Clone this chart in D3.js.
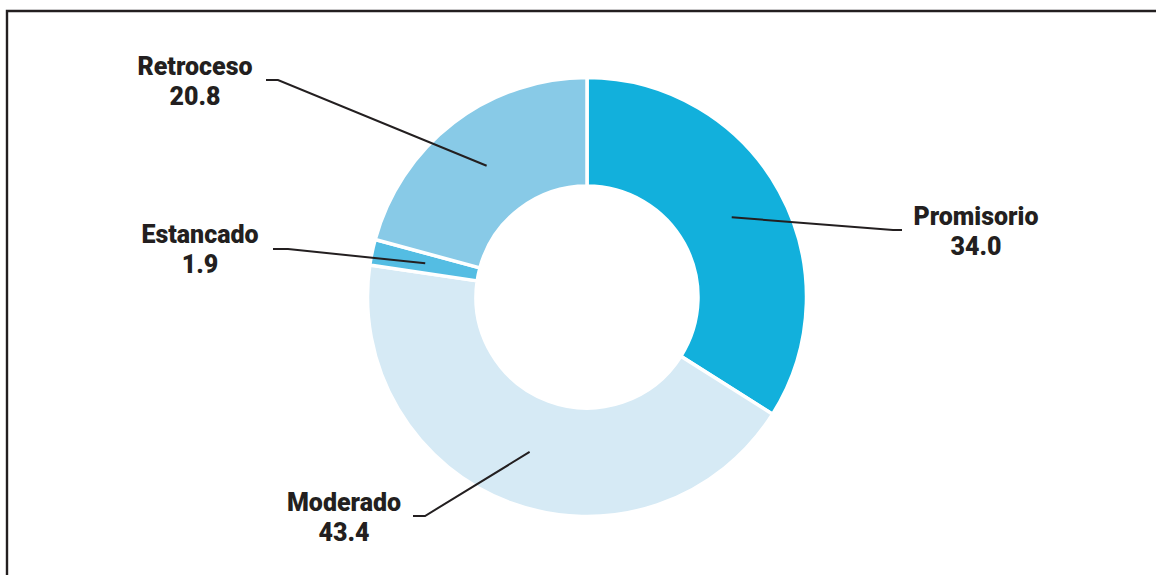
<!DOCTYPE html>
<html>
<head>
<meta charset="utf-8">
<script src="https://cdn.jsdelivr.net/npm/d3@7"></script>
<style>
    body { margin: 0; background: #fff; }
    text { font-family: Roboto, "Noto Sans", sans-serif; font-weight: 900; fill: #231f20; }
</style>
</head>
<body>
<div id="chart_area"></div>
<script>
// data
var categories = ["Promisorio", "Moderado", "Estancado", "Retroceso"];
var values = [34.0, 43.4, 1.9, 20.8];
var value_labels = ["34.0", "43.4", "1.9", "20.8"];
var colors = ["#12b0dc", "#d6eaf5", "#54bde3", "#88cae7"];

// where each label sits + the elbow of its leader line (layout only)
var label_pos = [
    {x: 976, y: 225, elbow: [893, 230], end: [902, 230]},
    {x: 344, y: 511, elbow: [425, 516], end: [413, 516]},
    {x: 200, y: 243, elbow: [288, 249], end: [273, 249]},
    {x: 195, y: 75, elbow: [278, 80], end: [266, 80]}
];

var svg_w = 1156;
var svg_h = 575;
var cx = 587, cy = 297;
var r_out = 219.5, r_in = 111;

var svg = d3.select("#chart_area")
    .append("svg")
    .attr("width", svg_w)
    .attr("height", svg_h);

// frame (only top and left visible)
svg.append("path")
    .attr("d", "M7,575 L7,11 L1156,11")
    .style("fill", "none")
    .style("stroke", "#231f20")
    .style("stroke-width", 2.4);

var pie = d3.pie()
    .sort(null)
    .value(function(d){ return d; });

var arc = d3.arc()
    .innerRadius(r_in)
    .outerRadius(r_out);

var arcs = pie(values);

var donut = svg.append("g")
    .attr("id", "donut")
    .attr("transform", "translate(" + cx + "," + cy + ")");

donut.selectAll("path")
    .data(arcs)
    .enter()
    .append("path")
    .attr("d", arc)
    .style("fill", function(d, i){ return colors[i]; })
    .style("stroke", "#fff")
    .style("stroke-width", 3.5);

// leader lines
var lines = svg.append("g").attr("id", "leaders");
lines.selectAll("polyline")
    .data(arcs)
    .enter()
    .append("polyline")
    .attr("points", function(d, i){
        var c = arc.centroid(d);
        var p = label_pos[i];
        return [[cx + c[0], cy + c[1]], p.elbow, p.end].join(" ");
    })
    .style("fill", "none")
    .style("stroke", "#231f20")
    .style("stroke-width", 2);

// labels
var labels = svg.append("g").attr("id", "labels");
labels.selectAll("text.name")
    .data(categories)
    .enter()
    .append("text")
    .attr("class", "name")
    .attr("x", function(d, i){ return label_pos[i].x; })
    .attr("y", function(d, i){ return label_pos[i].y; })
    .attr("text-anchor", "middle")
    .style("font-size", "25px")
    .text(function(d){ return d; });

labels.selectAll("text.val")
    .data(value_labels)
    .enter()
    .append("text")
    .attr("class", "val")
    .attr("x", function(d, i){ return label_pos[i].x; })
    .attr("y", function(d, i){ return label_pos[i].y + 30; })
    .attr("text-anchor", "middle")
    .style("font-size", "25px")
    .text(function(d){ return d; });
</script>
</body>
</html>
